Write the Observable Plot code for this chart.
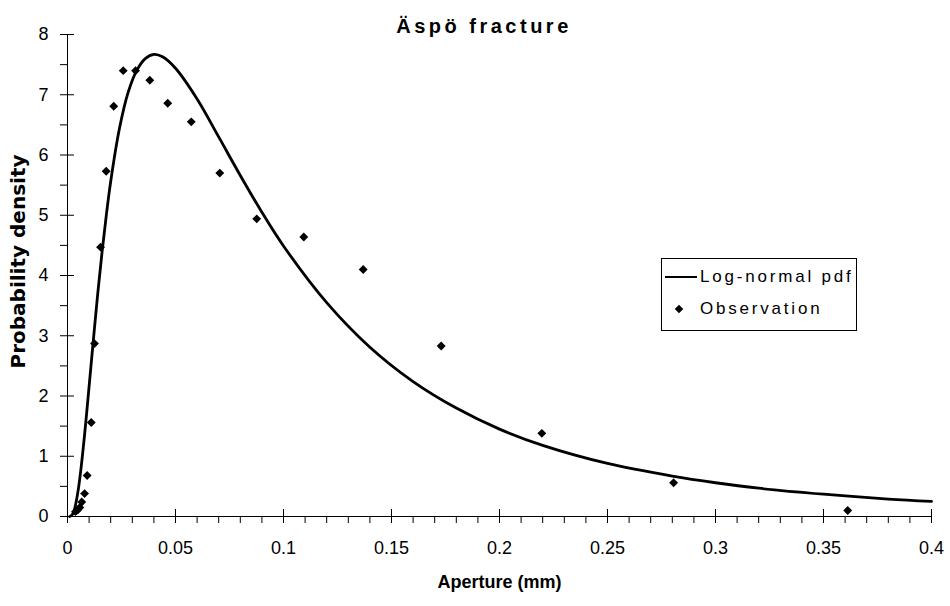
<!DOCTYPE html>
<html>
<head>
<meta charset="utf-8">
<script src="https://cdn.jsdelivr.net/npm/d3@7"></script>
<script src="https://cdn.jsdelivr.net/npm/@observablehq/plot@0.6"></script>
<style>
  body { margin: 0; background: #fff; }
  #chart { position: relative; width: 950px; height: 606px; font-family: "Liberation Sans", Arial, sans-serif; color: #000; }
  #chart svg { position: absolute; left: 0; top: 0; }
  .title { position: absolute; left: 344px; width: 280px; top: 15px; text-align: center; font-size: 20px; font-weight: bold; letter-spacing: 3.5px; }
  .legend { position: absolute; left: 661px; top: 258px; width: 196px; height: 73px; box-sizing: border-box; border: 1px solid #000; background: #fff; font-size: 17px; letter-spacing: 2.8px; }
  .legend .row { position: absolute; left: 0; height: 20px; width: 100%; }
  .legend .swatch-line { position: absolute; left: 3px; top: 9px; width: 32px; height: 0; border-top: 2.5px solid #000; }
  .legend .swatch-dot { position: absolute; left: 14px; top: 7px; width: 6px; height: 6px; background: #000; transform: rotate(45deg); }
  .legend .label { position: absolute; left: 38px; top: 0; line-height: 20px; white-space: nowrap; }
</style>
</head>
<body>
<div id="chart">
  <div class="title">Äspö fracture</div>
  <div class="legend">
    <div class="row" style="top:8px"><div class="swatch-line"></div><div class="label">Log-normal pdf</div></div>
    <div class="row" style="top:40px"><div class="swatch-dot"></div><div class="label">Observation</div></div>
  </div>
</div>
<script>
// Observed aperture distribution (mm) and measured probability density
const apertureObs = [0.0037, 0.0048, 0.0057, 0.0066, 0.0079, 0.0091, 0.0110, 0.0125, 0.0153, 0.0179,
  0.0214, 0.0258, 0.0315, 0.0381, 0.0464, 0.0573, 0.0705, 0.0876, 0.1094, 0.1369,
  0.1730, 0.2196, 0.2806, 0.3612];
const densityObs = [0.08, 0.11, 0.15, 0.24, 0.38, 0.68, 1.56, 2.87, 4.47, 5.73,
  6.81, 7.40, 7.40, 7.24, 6.86, 6.55, 5.70, 4.94, 4.64, 4.10,
  2.83, 1.38, 0.56, 0.10];

// Fitted log-normal density curve
const apertureFit = [0.001, 0.002, 0.003, 0.004, 0.005, 0.006, 0.007, 0.008, 0.009, 0.010,
  0.012, 0.014, 0.016, 0.018, 0.020, 0.024, 0.028, 0.032, 0.036, 0.040,
  0.044, 0.050, 0.060, 0.070, 0.080, 0.090, 0.100, 0.120, 0.140, 0.160,
  0.180, 0.200, 0.220, 0.250, 0.280, 0.300, 0.320, 0.350, 0.380, 0.400];
const densityFit = [0.00, 0.02, 0.09, 0.24, 0.45, 0.72, 1.04, 1.39, 1.77, 2.16,
  2.94, 3.70, 4.39, 5.01, 5.56, 6.43, 7.03, 7.40, 7.60, 7.67,
  7.63, 7.44, 6.93, 6.30, 5.66, 5.05, 4.49, 3.55, 2.81, 2.24,
  1.80, 1.45, 1.18, 0.88, 0.67, 0.56, 0.47, 0.37, 0.29, 0.25];

// Axis ticks
const xMajorTicks = [0, 0.05, 0.1, 0.15, 0.2, 0.25, 0.3, 0.35, 0.4];
const xMinorTicks = [0.01, 0.02, 0.03, 0.04, 0.06, 0.07, 0.08, 0.09, 0.11, 0.12, 0.13, 0.14,
  0.16, 0.17, 0.18, 0.19, 0.21, 0.22, 0.23, 0.24, 0.26, 0.27, 0.28, 0.29,
  0.31, 0.32, 0.33, 0.34, 0.36, 0.37, 0.38, 0.39];
const yMajorTicks = [0, 1, 2, 3, 4, 5, 6, 7, 8];
const yMinorTicks = [0.5, 1.5, 2.5, 3.5, 4.5, 5.5, 6.5, 7.5];

const xTitle = "Aperture (mm)";
const yTitle = "Probability density";

const observations = apertureObs.map((x, i) => ({x, y: densityObs[i]}));
const fitted = apertureFit.map((x, i) => ({x, y: densityFit[i]}));

const fmt = d3.format("~g");

const chart = Plot.plot({
  width: 950,
  height: 606,
  marginLeft: 67,
  marginRight: 19,
  marginTop: 34,
  marginBottom: 90,
  x: {domain: [0, 0.4]},
  y: {domain: [0, 8]},
  style: {fontFamily: "'Liberation Sans', Arial, sans-serif", fontSize: "18px", color: "#000", background: "transparent", overflow: "visible"},
  marks: [
    // axis lines
    Plot.ruleY([0], {stroke: "#000", strokeWidth: 1}),
    Plot.ruleX([0], {stroke: "#000", strokeWidth: 1}),
    // major ticks cross the axis, minor ticks sit outside
    Plot.axisX({ticks: xMajorTicks, tickSize: 14, dy: -7, fill: "none", label: null}),
    Plot.axisX({ticks: xMinorTicks, tickSize: 7, fill: "none", label: null}),
    Plot.axisX({ticks: xMajorTicks, tickSize: 0, tickPadding: 25, tickFormat: fmt, label: null}),
    Plot.axisY({ticks: yMajorTicks, tickSize: 14, dx: 7, fill: "none", label: null}),
    Plot.axisY({ticks: yMinorTicks, tickSize: 7, fill: "none", label: null}),
    Plot.axisY({ticks: yMajorTicks, tickSize: 0, tickPadding: 19, tickFormat: fmt, label: null}),
    // fitted curve and observations
    Plot.line(fitted, {x: "x", y: "y", stroke: "#000", strokeWidth: 2.8, curve: "catmull-rom"}),
    Plot.dot(observations, {x: "x", y: "y", symbol: "diamond2", r: 4, fill: "#000", stroke: "none"}),
    // axis titles
    Plot.text([xTitle], {frameAnchor: "bottom", dy: 71, fontWeight: "bold", fontSize: 18}),
    Plot.text([yTitle], {frameAnchor: "left", dx: -49, dy: -14, rotate: -90, textAnchor: "middle", fontWeight: "bold", fontSize: 20, fontFamily: "'DejaVu Sans', sans-serif"})
  ]
});

document.getElementById("chart").prepend(chart);
</script>
</body>
</html>
